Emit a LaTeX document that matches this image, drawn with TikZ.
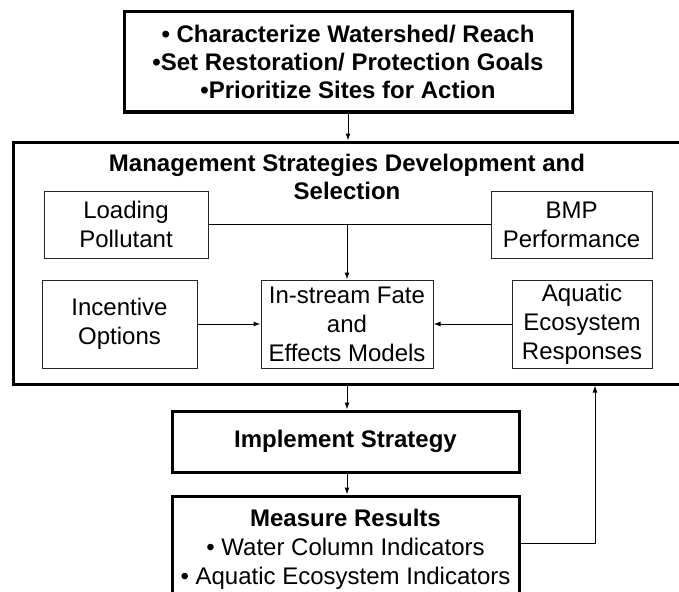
\documentclass[tikz,border=0pt]{standalone}
\usepackage{fontspec}
\setmainfont{Liberation Sans}
\usetikzlibrary{arrows.meta}
\begin{document}
\begin{tikzpicture}[x=1pt,y=1pt,
  thickbox/.style={draw=black,line width=3pt,inner sep=0pt,align=center},
  thinbox/.style={draw=black!85,line width=1pt,inner sep=0pt,align=center,
     font=\fontsize{24}{29}\selectfont},
  bf/.style={font=\fontsize{24}{28}\selectfont\bfseries},
  arr/.style={line width=1pt,-{Latex[length=7pt,width=5pt]}},
  conn/.style={line width=1pt}]
\useasboundingbox (0,0) rectangle (679,-591);
\clip (0,0) rectangle (679,-591);
% top box
\node[thickbox,bf,minimum width=448,minimum height=100] (top) at (348,-62)
  {• Characterize Watershed/ Reach\\•Set Restoration/ Protection Goals\\•Prioritize Sites for Action};
% big box
\node[thickbox,minimum width=680,minimum height=242] (big) at (353,-263) {};
\node[bf,align=center,inner sep=0pt] (title) at (347,-177)
  {Management Strategies Development and\\Selection};
% inner boxes
\node[thinbox,minimum width=164,minimum height=67] (load) at (126,-224.5) {Loading\\Pollutant};
\node[thinbox,minimum width=161,minimum height=67] (bmp) at (571.5,-224.5) {BMP\\Performance};
\node[thinbox,minimum width=155,minimum height=88] (inc) at (119.5,-324) {Incentive\\Options};
\node[thinbox,minimum width=172,minimum height=88] (ins) at (347,-324) {In-stream Fate\\and\\Effects Models};
\node[thinbox,minimum width=140,minimum height=88] (aqu) at (582,-324) {Aquatic\\Ecosystem\\Responses};
% lower boxes
\node[thickbox,bf,minimum width=347,minimum height=61] (impl) at (345.5,-441.5) {Implement Strategy};
\node[thickbox,minimum width=347,minimum height=106,font=\fontsize{24}{29}\selectfont] (meas) at (345.5,-549)
  {\textbf{Measure Results}\\• Water Column Indicators\\• Aquatic Ecosystem Indicators};
% connectors
\draw[arr] (top.south) -- (top.south |- big.north);
\draw[conn] (load.east) -- (bmp.west);
\coordinate (j) at (ins.north |- load.east);
\draw[arr] (j) -- (ins.north);
\draw[arr] (inc.east) -- (ins.west);
\draw[arr] (aqu.west) -- (ins.east);
\draw[arr] (ins.south |- big.south) -- (ins.south |- impl.north);
\draw[arr] (ins.south |- impl.south) -- (ins.south |- meas.north);
\coordinate (fb) at (595,-543);
\draw[arr] (meas.east |- fb) -- (fb) -- (fb |- big.south);
\end{tikzpicture}
\end{document}
